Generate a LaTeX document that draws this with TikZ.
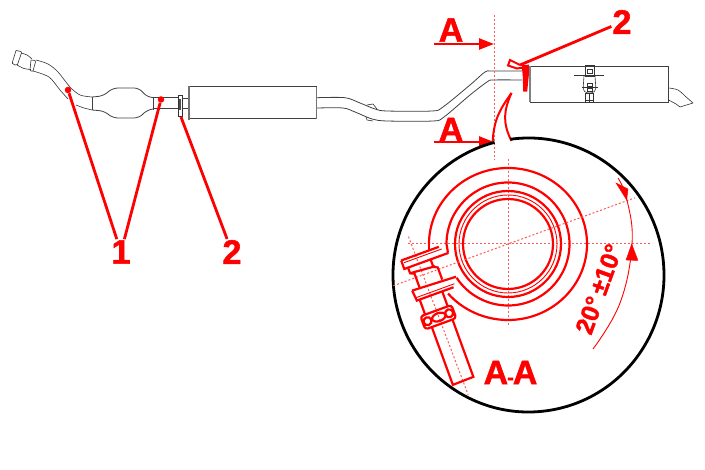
\documentclass[tikz,border=0pt]{standalone}
\usepackage{fontspec}
\setmainfont{Liberation Sans}[BoldFeatures={FakeBold=1.6}]
\usepackage{tikz}
\usetikzlibrary{arrows.meta}

\tikzset{
    pipe/.style={draw=black!75, line width=.8pt},
    thin pipe/.style={draw=black!80, line width=.6pt},
    shell/.style={draw=black!75, line width=1pt},
    heavy edge/.style={draw=black!55, line width=1.8pt},
    callout/.style={font=\bfseries\fontsize{34}{34}\selectfont, text=red, inner sep=1pt},
    leader/.style={draw=red, line width=2.8pt},
    contact/.style={circle, fill=red, inner sep=0pt, minimum size=6.5pt},
    cut arrow/.style={draw=red, line width=2.4pt, -{Triangle[length=15pt, width=11pt]}},
    axis/.style={draw=red!65, line width=1pt, dash pattern=on 2pt off 2pt},
    heavy/.style={draw=red, line width=2.2pt},
    hair/.style={draw=red, line width=.9pt}
}

\begin{document}
\begin{tikzpicture}[x=1pt, y=-1pt]

        \def\lensx{135.5}
        \def\lensy{137}

        \useasboundingbox (0,0) rectangle (705,470);

        % Exhaust line, inlet end to catalyst
        \begin{scope}
            \draw[thin pipe] (16,50.5) -- (21,51.5) -- (21.5,53) -- (17.5,64.5)
                -- (15,65) -- (12.5,63.5) -- (12.5,62) -- (16,50.5);
            \draw[thin pipe] (31,60) -- (35,60.5) -- (35.5,62) -- (33,71) -- (31,71)
                -- (30,70) -- (31,60);
            \draw[thin pipe] plot[smooth, tension=.5] coordinates
                {(21,53) (27,55) (32,59)};
            \draw[thin pipe] plot[smooth, tension=.5] coordinates
                {(17,65) (24,68.5) (31,69.5)};
            \draw[thin pipe] plot[smooth, tension=.5] coordinates
                {(36,60) (48,64) (58,72) (70,87) (80,95) (92,97)};
            \draw[thin pipe] plot[smooth, tension=.5] coordinates
                {(33,71) (49,77) (60,90) (68,99)};
            \draw[thin pipe] plot[smooth, tension=.5] coordinates
                {(76,105) (84,108) (92,110)};
            \draw[pipe] (92,97) -- (92,110);
            \draw[pipe, rounded corners=5pt] (92,97) -- (103,96) -- (113,88)
                -- (139,88) -- (147,97) -- (153,97.5);
            \draw[pipe, rounded corners=5pt] (92,110) -- (104,111) -- (113,118)
                -- (139,118) -- (147,110) -- (153,109);
            \draw[pipe] (153,97) -- (153,110);
            \draw[pipe] (153,97.5) -- (178,97.5);
            \draw[pipe] (153,108.5) -- (178,108.5);
            \draw[thin pipe] (178.5,95) rectangle (182,116);
            \draw[draw=black!70, line width=1.5pt] (180,99) -- (180,110);
            \draw[pipe] (182,98) -- (189,98);
            \draw[pipe] (182,108) -- (189,108);
        \end{scope}

        % Centre silencer and rear pipe
        \begin{scope}
            \draw[shell] (189,86.7) -- (316.5,86.7) -- (316.5,119) -- (189,119);
            \draw[heavy edge] (189,86) -- (189,120);
            \draw[draw=black!55, line width=1.2pt] (316.5,87) -- (316.5,119);
            \draw[pipe] plot[smooth, tension=.5] coordinates
                {(317,97.7) (345,97.7) (360,103) (375,109) (387,111) (432,111)
                 (443,107) (470,85) (485,72) (492,71) (522,71)};
            \draw[pipe] plot[smooth, tension=.5] coordinates
                {(317,108) (343,108) (355,112) (372,119) (387,121) (433,121)
                 (444,117) (470,95) (487,82) (493,80) (522,80)};
            \draw[thin pipe] (367,105) -- (373,104) -- (377,109);
            \draw[thin pipe] (366,117) -- (367,120) -- (373,121);
        \end{scope}

        % Rear silencer, strap and tail
        \begin{scope}
            \draw[shell, line width=.8pt] (530,66) rectangle (668.7,102);
            \draw[draw=black!50, line width=1.2pt] (530,66) -- (530,102);
            \draw[thin pipe] (585.5,65) rectangle (594,76);
            \draw[thin pipe] (574,75.5) -- (604,75.5);
            \draw[thin pipe] (587.5,69) rectangle (592,73);
            \draw[thin pipe, rounded corners=2pt] (584,76) -- (583,90) -- (586,93)
                -- (593,93) -- (596,90) -- (595,76);
            \draw[thin pipe] (582,87) -- (598,87);
            \draw[thin pipe] (587,83) rectangle (592,86);
            \draw[thin pipe] (587,88) rectangle (592,91);
            \draw[thin pipe] (585.5,93) rectangle (593,102);
            \draw[thin pipe] (585.5,100) -- (593,100);
            \draw[thin pipe] (589,93) -- (589,102);
            \draw[thin pipe] plot[smooth, tension=.6] coordinates
                {(668.7,88) (678,90) (685,96) (693,103)};
            \draw[thin pipe] (693,103) -- (680,107) -- (676,104) -- (668.7,100);
        \end{scope}

        % Callouts on the line
        \begin{scope}
            \node[callout] (one) at (121,252) {1};
            \node[callout] (twoleft) at (232,252) {2};
            \node[callout] (tworight) at (622,22) {2};
            \node[contact] (catin) at (68,90) {};
            \node[contact] (catout) at (161,99.5) {};
            \coordinate (flangeleft) at (181,117);
            \coordinate (flangeright) at (520,65);
            \draw[leader] (one) -- (catin);
            \draw[leader] (one) -- (catout);
            \draw[leader] (twoleft) -- (flangeleft);
            \draw[leader] (tworight) -- (flangeright);
            \draw[draw=red, line width=2pt] (520,65) -- (510,60) -- (508,65.5)
                -- (517,68.5) -- (527,67);
            \draw[draw=red, fill=red, line width=1.5pt] (522.5,66) -- (528,65.5) -- (528,76)
                -- (526.5,91) -- (524,91) -- (523.5,76) -- cycle;
        \end{scope}

        % Cutting plane A-A
        \begin{scope}
            \node[callout] (cuttop) at (451,30) {A};
            \node[callout] (cutlow) at (451,129.5) {A};
            \coordinate (cuttopfrom) at (434,44);
            \coordinate (cuttopto) at (494,44);
            \coordinate (cutlowfrom) at (434,142);
            \coordinate (cutlowto) at (494,142);
            \draw[axis] (494,15) -- (494,160);
            \draw[cut arrow] (cuttopfrom) -- (cuttopto);
            \draw[cut arrow] (cutlowfrom) -- (cutlowto);
            \draw[draw=red, line width=2pt] (492.7,141) .. controls (494,118) and (501,108) .. (511.5,93);
            \draw[draw=red, line width=2pt] (511.5,93) .. controls (504,110) and (502,122) .. (511.5,141);
        \end{scope}

        % Detail lens, seen along the pipe
        \draw[black, line width=2.8pt] (528.5,275) ++(-97.7:{\lensx} and {\lensy})
            arc[start angle=-97.7, end angle=255.5, x radius=\lensx, y radius=\lensy];

        \begin{scope}[shift={(508,244)}]
            \draw[axis] (-100,0) -- (143,0);
            \draw[axis] (0,-85) -- (0,83);

            \draw[heavy] (-79,0) arc[start angle=180, end angle=499.3, x radius=79, y radius=76];
            \draw[heavy] (-61.5,0) arc[start angle=180, end angle=506.7, radius=61.5];
            \foreach\r in {53,45}
            \draw[heavy] (0,0) circle[radius=\r];
            \draw[hair] (0,0) circle[radius=49];
            \draw[heavy] (-79,0) -- (-79,7);
            \draw[heavy] (-61.5,0) -- (-60,8.7);

            % Clamp ears and bolt, turned with the axis
            \begin{scope}[rotate=20]
                \draw[axis] (-122,0) -- (135,0);
                \draw[axis] (-91,-41) -- (-89,128);

                \draw[heavy] (-106,-21) -- (-66,-21);
                \draw[hair] (-104,-18) -- (-64,-18);
                \draw[heavy] (-106,-21) -- (-106,-12) -- (-59,-12);
                \draw[heavy] (-102,-12) -- (-102,-6) -- (-98,-4) -- (-98,11);
                \draw[heavy] (-78,-12) -- (-78,-4) -- (-74,-2) -- (-74,11);
                \draw[heavy] (-102,-6) -- (-76,-4);

                \draw[heavy] (-106,11) -- (-60,13);
                \draw[heavy] (-106,11) -- (-105,22) -- (-66,22);
                \draw[hair] (-105,19) -- (-64,19);
                \draw[heavy] (-102,22) -- (-102,38);
                \draw[heavy] (-78,22) -- (-78,38);

                \draw[heavy, rounded corners=3pt] (-107,38) rectangle (-74,52);
                \draw[heavy] (-102,45) circle[radius=4];
                \draw[heavy] (-79,45) circle[radius=4];
                \draw[heavy] (-90,45) ellipse[x radius=7, y radius=4];

                \draw[heavy] (-100,52) -- (-100,113.5) -- (-78,113) -- (-78,52);
            \end{scope}

            % 20 degree dimension
            \draw[hair] plot[smooth, tension=.7] coordinates
                {(110,-66) (119,-44) (124,0) (112,59) (85,105)};
            \draw[draw=red, fill=red] (118.7,-44) -- (108,-61) -- (120,-55) -- cycle;
            \draw[draw=red, fill=red] (123.7,0) -- (118,16) -- (130,16.5) -- cycle;
        \end{scope}

        \node[callout, font=\bfseries\fontsize{25}{25}\selectfont, rotate=70] (tolerance) at (599,289)
            {20°\,±10°};
        \node[callout] (section) at (510.5,372.5)
            {A\kern-1pt{\fontsize{20}{20}\selectfont -}\kern-1ptA};

\end{tikzpicture}
\end{document}
